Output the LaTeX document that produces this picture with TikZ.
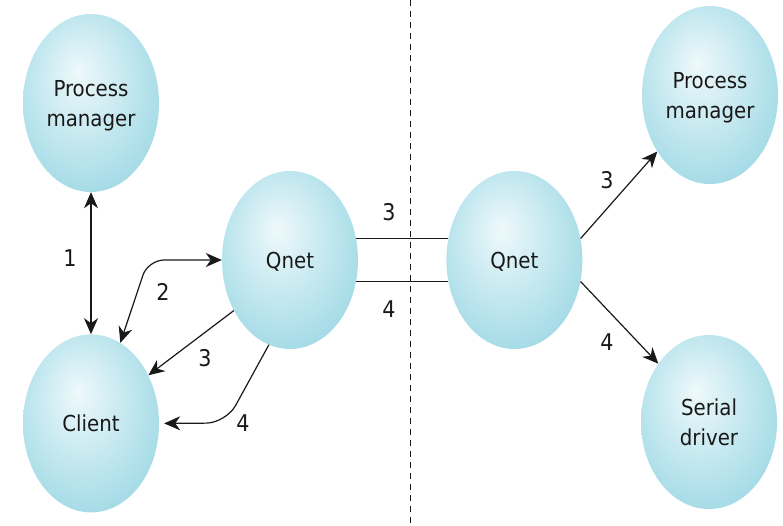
\documentclass[tikz,border=0pt]{standalone}
\usepackage{fontspec}
\setmainfont{DejaVu Sans Condensed}
\usetikzlibrary{positioning, arrows.meta, shapes.geometric}

\definecolor{qin}{RGB}{238,249,251}
\definecolor{qout}{RGB}{100,193,213}
\definecolor{ink}{RGB}{25,25,25}
\pgfdeclareradialshading{qball}{\pgfpoint{-5bp}{9bp}}{color(0bp)=(qin); color(14bp)=(qin!75!qout); color(56bp)=(qout)}

\begin{document}
\begin{tikzpicture}[x=1pt, y=1pt, font=\fontsize{22}{30}\selectfont, b/.style={ellipse, shade, shading=qball, minimum width=136pt, minimum height=178pt, inner sep=0pt, align=center, text depth=0pt, text=ink}, num/.style={text=ink, font=\fontsize{23}{26}\selectfont}, a/.style={draw=ink, line width=1.2pt}]
		\useasboundingbox (0,0) rectangle (783,-525);

		\node[b] (PM_L) at (91,-103) {Process\\manager};
		\node[b, below=142pt of PM_L] (Cl) {Client};
		\node[b] (Q_L) at (290,-260) {Qnet};
		\node[b, right=88pt of Q_L] (Q_R) {Qnet};
		\node[b] (PM_R) at (710,-95) {Process\\manager};
		\node[b, minimum height=174pt] (SD) at (709,-422) {Serial\\driver};

		\node[num] (L1) at (70,-258) {1};
		\node[num] (L2) at (163,-292) {2};
		\node[num] (L3) at (205,-358) {3};
		\node[num] (L4) at (243,-423) {4};
		\node[num] (L3_net) at (389,-212) {3};
		\node[num] (L4_net) at (389,-309) {4};
		\node[num] (L3_r) at (607,-180) {3};
		\node[num] (L4_r) at (607,-342) {4};

		\coordinate (k2) at (148,-260);
		\coordinate (k4) at (226,-423);
		\coordinate (cut_top) at (410,0);
		\coordinate (cut_bot) at (410,-525);

		\draw[ink, line width=0.9pt, dash pattern=on 6pt off 5pt] (cut_top) -- (cut_bot);

		\draw[a, {Stealth[length=16pt, width=14pt, inset=5pt]}-{Stealth[length=16pt, width=14pt, inset=5pt]}] (PM_L) -- (Cl);
		\draw[a, {Stealth[length=16pt, width=14pt, inset=5pt]}-{Stealth[length=16pt, width=14pt, inset=5pt]}, rounded corners=16pt] (Cl.70) -- (k2) -- (Q_L.west);
		\draw[a, -{Stealth[length=16pt, width=14pt, inset=5pt]}] (Q_L.222) -- (Cl.40);
		\draw[a, -{Stealth[length=16pt, width=14pt, inset=5pt]}, rounded corners=20pt] (Q_L.256) -- (k4) -- ([xshift=5pt]Cl.east);
		\draw[a] (Q_L.18) -- (Q_R.162);
		\draw[a] (Q_L.-18) -- (Q_R.198);
		\draw[a, -{Stealth[length=16pt, width=14pt, inset=5pt]}] (Q_R.18) -- (PM_R.227);
		\draw[a, -{Stealth[length=16pt, width=14pt, inset=5pt]}] (Q_R.-18) -- (SD.131);
	\end{tikzpicture}
\end{document}
